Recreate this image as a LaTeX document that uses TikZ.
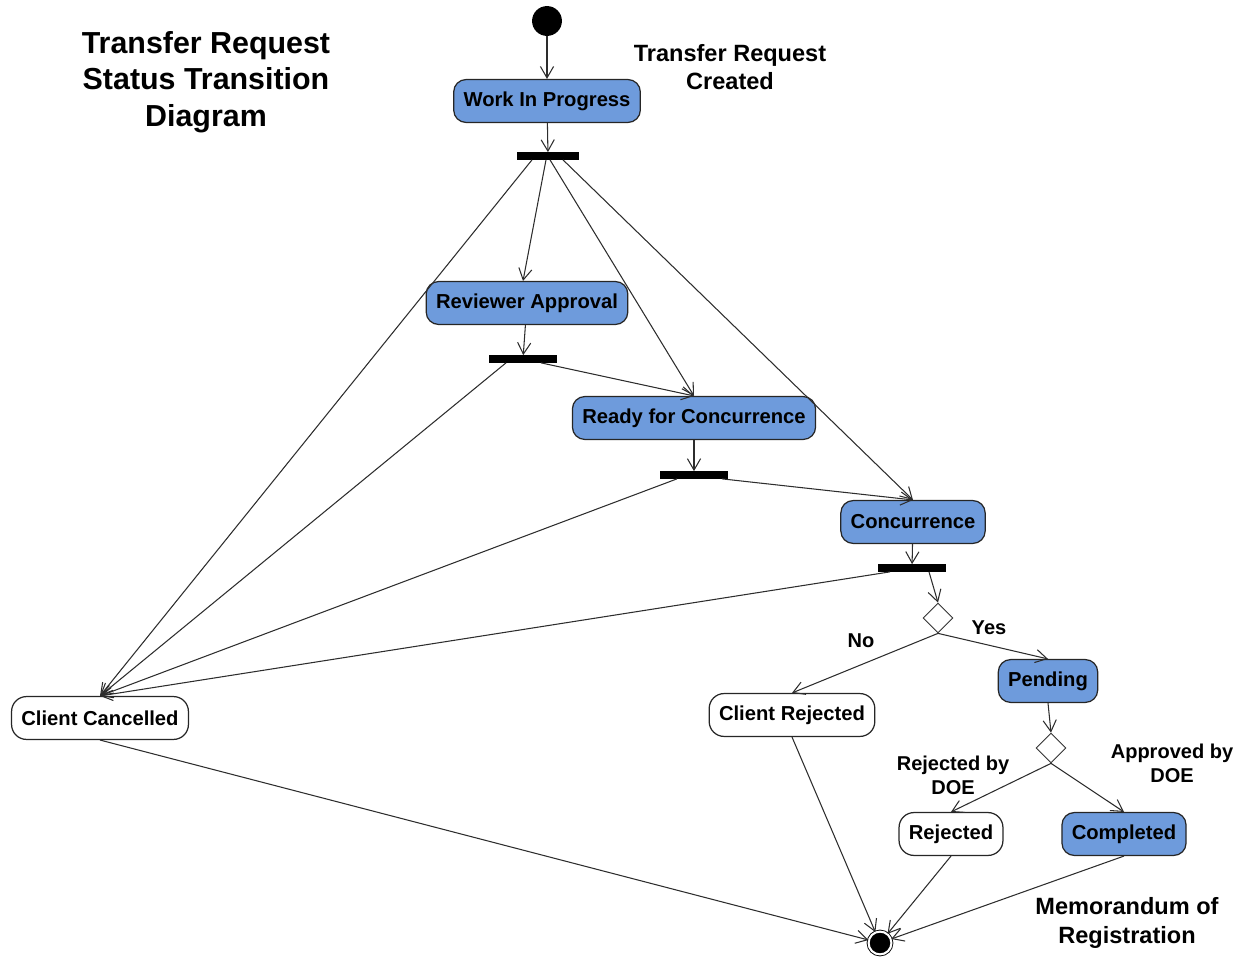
\documentclass[tikz,border=0pt]{standalone}
\usepackage{fontspec}
\setmainfont{Liberation Sans}
\usepackage{tikz}
\usetikzlibrary{shapes.geometric,calc,arrows.meta}
\definecolor{stateblue}{RGB}{110,155,220}
\definecolor{edgegray}{RGB}{45,45,45}
\tikzset{
  state/.style={draw=black!85, line width=0.7pt, rounded corners=7pt, minimum height=24.4pt, inner xsep=5.6pt, font=\fontsize{11.5}{13}\selectfont\bfseries},
  active/.style={state, fill=stateblue},
  closed/.style={state, fill=white, rounded corners=8.5pt},
  syncbar/.style={fill=black, inner sep=0pt, minimum height=4pt, minimum width=38.5pt},
  choice/.style={diamond, draw=black!80, line width=0.5pt, inner sep=0pt, minimum size=17pt},
  flow/.style={-{Straight Barb[length=6.5pt,width=7.5pt]}, draw=edgegray, line width=0.6pt},
  note/.style={font=\fontsize{13.4}{16}\selectfont\bfseries, align=center},
  guard/.style={font=\fontsize{11.4}{13.6}\selectfont\bfseries, align=center}
}
\begin{document}
\begin{tikzpicture}[x=0.02cm, y=-0.02cm]
  \useasboundingbox (0,0) rectangle (1238,959);
  % Title
  \node[note, font=\fontsize{17.3}{20.7}\selectfont\bfseries] (title) at (206,82) {Transfer Request\\Status Transition\\Diagram};

  % Initial and final states
  \node[circle, fill=black, minimum size=17pt, inner sep=0pt] (start) at (547,21) {};
  \node[circle, draw, fill=black, double, double distance=1.2pt, line width=0.5pt, minimum size=13pt, inner sep=0pt] (final) at (880,943) {};

  % States and sync bars
  \node[active] (wip) at (547,101) {Work In Progress};
  \node[syncbar, minimum width=35pt] (bar1) at (548,156) {};
  \node[active] (review) at (527,303) {Reviewer Approval};
  \node[syncbar] (bar2) at (523,359) {};
  \node[active] (ready) at (694,418) {Ready for Concurrence};
  \node[syncbar] (bar3) at (694,475) {};
  \node[active] (conc) at (913,522) {Concurrence};
  \node[syncbar] (bar4) at (912,568) {};
  \node[choice] (dec1) at (938,618) {};
  \node[active] (pending) at (1048,681) {Pending};
  \node[closed] (crej) at (792,715) {Client Rejected};
  \node[choice] (dec2) at (1051,748) {};
  \node[closed] (rej) at (951,834) {Rejected};
  \node[active] (done) at (1124,834) {Completed};
  \node[closed] (ccan) at (100,718) {Client Cancelled};

  % Free labels
  \node[note] (created) at (730,67) {Transfer Request\\Created};
  \node[note] (memo) at (1127,923) {Memorandum of\\Registration};
  \node[guard] (no) at (861,641) {No};
  \node[guard] (yes) at (989,628) {Yes};
  \node[guard] (byrej) at (953,775) {Rejected by\\DOE};
  \node[guard] (byok) at (1172,763) {Approved by\\DOE};

  % Transitions
  \draw[flow] (start) -- (wip);
  \draw[flow] (wip) -- (bar1);
  \draw[flow] ($(bar1.south)+(-16,0)$) -- (ccan.north);
  \draw[flow] ($(bar1.south)+(-2,0)$) -- ($(review.north)+(-4,0)$);
  \draw[flow] ($(bar1.south)+(2,0)$) -- (ready.north);
  \draw[flow] ($(bar1.south)+(15,0)$) -- (conc.north);

  \draw[flow] (review) -- (bar2);
  \draw[flow] ($(bar2.south)+(-17,0)$) -- (ccan.north);
  \draw[flow] ($(bar2.south)+(18,0)$) -- (ready.north);

  \draw[flow] (ready) -- (bar3);
  \draw[flow] ($(bar3.south)+(-17,0)$) -- (ccan.north);
  \draw[flow] ($(bar3.south)+(28,0)$) -- (conc.north);

  \draw[flow] (conc) -- (bar4);
  \draw[flow] ($(bar4.south)+(-22,0)$) -- (ccan.north);
  \draw[flow] ($(bar4.south)+(17,0)$) -- (dec1.north);

  \draw[flow] (dec1.south) -- (crej.north);
  \draw[flow] (dec1.south) -- (pending.north);
  \draw[flow] (pending.south) -- (dec2.north);
  \draw[flow] (dec2.south) -- (rej.north);
  \draw[flow] (dec2.south) -- (done.north);

  \draw[flow] (ccan.south) -- (final);
  \draw[flow] (crej.south) -- (final);
  \draw[flow] (rej.south) -- (final);
  \draw[flow] (done.south) -- (final);
\end{tikzpicture}
\end{document}
